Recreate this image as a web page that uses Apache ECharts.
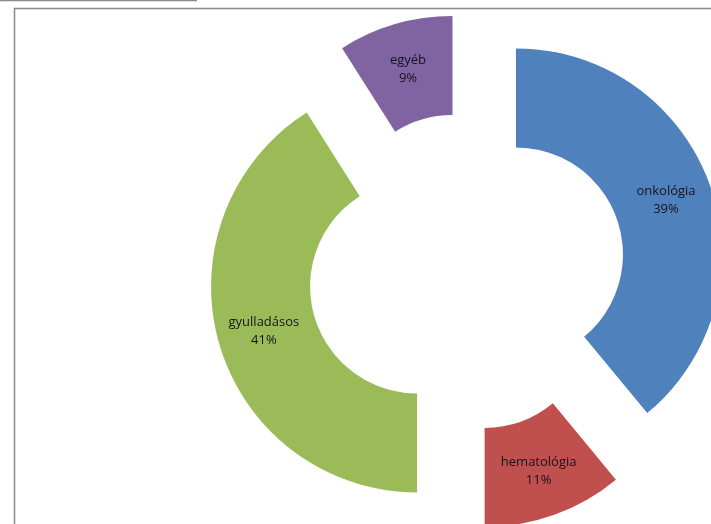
<!DOCTYPE html>
<html>
<head>
<meta charset="utf-8">
<script src="https://cdn.jsdelivr.net/npm/echarts@6/dist/echarts.min.js"></script>
<style>
  html, body { margin: 0; padding: 0; background: #fff; }
  #chart { width: 711px; height: 524px; }
</style>
</head>
<body>
<div id="chart"></div>
<script>
// Categories and their shares (percent)
const categories = ['onkológia', 'hematológia', 'gyulladásos', 'egyéb'];
const shares = [39, 11, 41, 9];
const colors = ['#4F81BD', '#C0504D', '#9BBB59', '#8064A2'];

const chart = echarts.init(document.getElementById('chart'), null, { renderer: 'canvas' });

chart.setOption({
  backgroundColor: '#ffffff',
  animation: false,
  graphic: [
    // outer frame of the chart area
    {
      type: 'rect',
      shape: { x: 14.5, y: 8.5, width: 900, height: 700 },
      style: { fill: 'none', stroke: '#8a8a8a', lineWidth: 1.5 },
      silent: true
    },
    // short rule at the very top
    {
      type: 'line',
      shape: { x1: 0, y1: 0.5, x2: 197, y2: 0.5 },
      style: { stroke: '#8a8a8a', lineWidth: 1.5 },
      silent: true
    }
  ],
  series: [{
    type: 'pie',
    center: [467, 272],
    radius: [107, 206],
    startAngle: 90,
    clockwise: true,
    selectedMode: 'multiple',
    selectedOffset: 52,
    avoidLabelOverlap: false,
    label: {
      show: true,
      position: 'inside',
      formatter: p => p.name + '\n' + p.value + '%',
      fontFamily: 'Open Sans',
      fontSize: 13,
      lineHeight: 18,
      color: '#14141f'
    },
    labelLine: { show: false },
    emphasis: { disabled: true },
    itemStyle: { borderWidth: 0 },
    data: categories.map((c, i) => ({
      name: c,
      value: shares[i],
      selected: true,
      itemStyle: { color: colors[i] }
    }))
  }]
});
</script>
</body>
</html>
